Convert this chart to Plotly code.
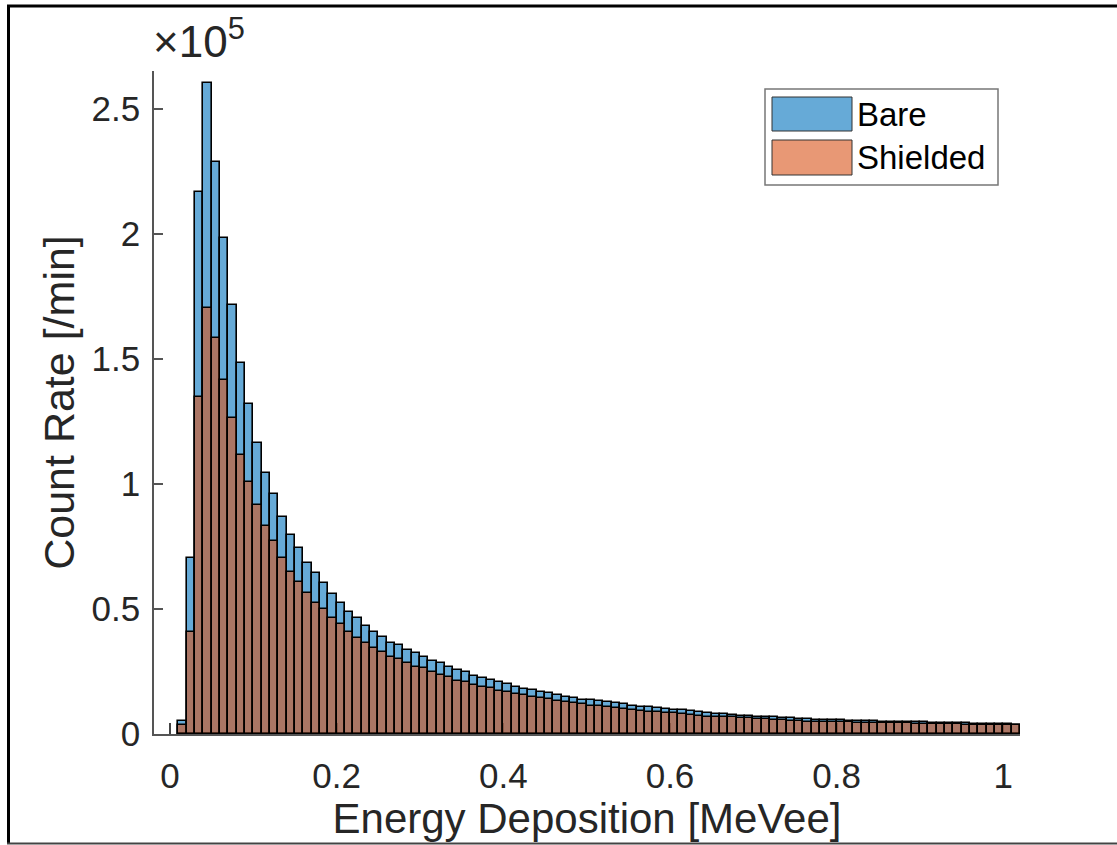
import plotly.graph_objects as go

# Histogram bins: 0.01 MeVee wide, left edges from 0.01 to 1.01 MeVee
bin_width = 0.01
bin_left = [round(0.01 * k, 2) for k in range(1, 102)]

# Count rates per bin [/min]
bare_counts = [
    5200, 70300, 216900, 260300, 228900, 198300, 171600, 148300, 132000, 116300,
    104300, 95900, 86700, 79600, 74300, 68500, 64300, 60300, 56000, 52300,
    48900, 46300, 43300, 40700, 38900, 36500, 35600, 33600, 32500, 30700,
    29300, 28300, 26900, 25600, 24900, 23200, 22400, 21600, 20700, 19900,
    18900, 18100, 17600, 16800, 16300, 15600, 14900, 14500, 13800, 13600,
    13200, 12700, 12300, 11900, 11300, 10900, 10800, 10300, 9900, 9800,
    9600, 9200, 8700, 8300, 8200, 8000, 7600, 7200, 7100, 6900,
    6800, 6700, 6500, 6400, 6100, 5900, 5800, 5600, 5700, 5600,
    5400, 5300, 5200, 5200, 5000, 4900, 4900, 4800, 4700, 4700,
    4600, 4500, 4500, 4400, 4300, 4200, 4200, 4100, 4000, 3900,
    3800,
]
shielded_counts = [
    3600, 40900, 134900, 170300, 158300, 141600, 126300, 111600, 100900, 91600,
    83200, 77200, 70500, 64900, 60700, 56300, 52500, 49900, 46500, 44000,
    40900, 38300, 36300, 34300, 32700, 30900, 30000, 28500, 26900, 26300,
    24700, 23600, 22700, 21300, 20700, 19600, 18900, 18300, 17300, 16900,
    16000, 15500, 14900, 14300, 13900, 13300, 12900, 12500, 11900, 11200,
    11200, 10700, 10300, 9900, 9800, 9300, 8900, 8900, 8300, 8300,
    8000, 7600, 7300, 6900, 6900, 6800, 6700, 6300, 6300, 5900,
    5900, 5600, 5600, 5300, 5300, 4900, 4900, 4900, 4800, 4800,
    4700, 4600, 4600, 4500, 4500, 4400, 4300, 4300, 4200, 4100,
    4100, 4000, 4000, 3900, 3800, 3800, 3700, 3700, 3600, 3500,
    3500,
]

y_tick_vals = [0, 50000, 100000, 150000, 200000, 250000]
y_tick_text = ["0", "0.5", "1", "1.5", "2", "2.5"]
x_tick_vals = [0, 0.2, 0.4, 0.6, 0.8, 1.0]
x_tick_text = ["0", "0.2", "0.4", "0.6", "0.8", "1"]

series_names = ["Bare", "Shielded"]
fill_colors = ["rgba(0,114,189,0.6)", "rgba(217,83,25,0.6)"]
swatch_colors = ["rgb(102,170,215)", "rgb(232,152,117)"]

FONT = "Liberation Sans, Arial, sans-serif"
TEXT = "#262626"

W, H = 1117, 845
L, R, T, B = 154, 97, 71, 111
PW, PH = W - L - R, H - T - B


def px(x):
    return (x - L) / PW


def py(y):
    return (H - B - y) / PH


centres = [e + bin_width / 2 for e in bin_left]

fig = go.Figure()
for name, counts, color in zip(series_names, [bare_counts, shielded_counts], fill_colors):
    fig.add_trace(go.Bar(
        x=centres, y=counts, width=bin_width, name=name,
        marker=dict(color=color, line=dict(color="black", width=1.6)),
        showlegend=False,
    ))

fig.update_layout(
    width=W, height=H,
    margin=dict(l=L, r=R, t=T, b=B),
    barmode="overlay", bargap=0,
    plot_bgcolor="white", paper_bgcolor="white",
    font=dict(family=FONT, color=TEXT, size=34),
)

fig.update_xaxes(
    range=[-0.0192, 1.02],
    tickvals=x_tick_vals, ticktext=x_tick_text,
    ticks="inside", ticklen=11, tickwidth=1.5, tickcolor="#444",
    showline=True, linecolor="#555", linewidth=1.5,
    showgrid=False, zeroline=False, layer="below traces",
    tickfont=dict(size=35, color=TEXT), ticklabelstandoff=10,
    title=dict(text="Energy Deposition [MeVee]", font=dict(size=42, color=TEXT), standoff=8),
)
fig.update_yaxes(
    range=[0, 265200],
    tickvals=y_tick_vals, ticktext=y_tick_text,
    ticks="inside", ticklen=9, tickwidth=1.5, tickcolor="#555",
    showline=True, linecolor="#555", linewidth=1.5,
    showgrid=False, zeroline=False,
    tickfont=dict(size=35, color=TEXT), ticklabelstandoff=5,
    title=dict(text="Count Rate [/min]", font=dict(size=43, color=TEXT), standoff=4),
)

# Exponent label above the y axis
fig.add_annotation(
    x=px(151), y=py(68), xref="paper", yref="paper",
    xanchor="left", yanchor="bottom", showarrow=False,
    text="×10<sup>5</sup>", font=dict(size=44, color=TEXT),
)

shapes = []
# Outer frame
shapes.append(dict(type="line", xref="paper", yref="paper",
                   x0=px(7), x1=px(1130), y0=py(6), y1=py(6),
                   line=dict(color="black", width=3)))
shapes.append(dict(type="line", xref="paper", yref="paper",
                   x0=px(8.5), x1=px(8.5), y0=py(5), y1=py(844),
                   line=dict(color="black", width=3)))
shapes.append(dict(type="line", xref="paper", yref="paper",
                   x0=px(7), x1=px(1130), y0=py(843.5), y1=py(843.5),
                   line=dict(color="#444", width=2)))

# Legend box with wide swatches
shapes.append(dict(type="rect", xref="paper", yref="paper",
                   x0=px(765), x1=px(998), y0=py(89), y1=py(185),
                   line=dict(color="#777", width=1.5), fillcolor="white"))
swatch_rows = [(97, 131), (140, 175)]
for (top, bot), color, name in zip(swatch_rows, swatch_colors, series_names):
    shapes.append(dict(type="rect", xref="paper", yref="paper",
                       x0=px(772), x1=px(852), y0=py(top), y1=py(bot),
                       line=dict(color="#333", width=1), fillcolor=color))
    fig.add_annotation(
        x=px(855), y=py((top + bot) / 2), xref="paper", yref="paper",
        xanchor="left", yanchor="middle", showarrow=False,
        text=name, font=dict(size=33, color="black"),
    )
fig.update_layout(shapes=shapes)

fig.write_html("out.html")
